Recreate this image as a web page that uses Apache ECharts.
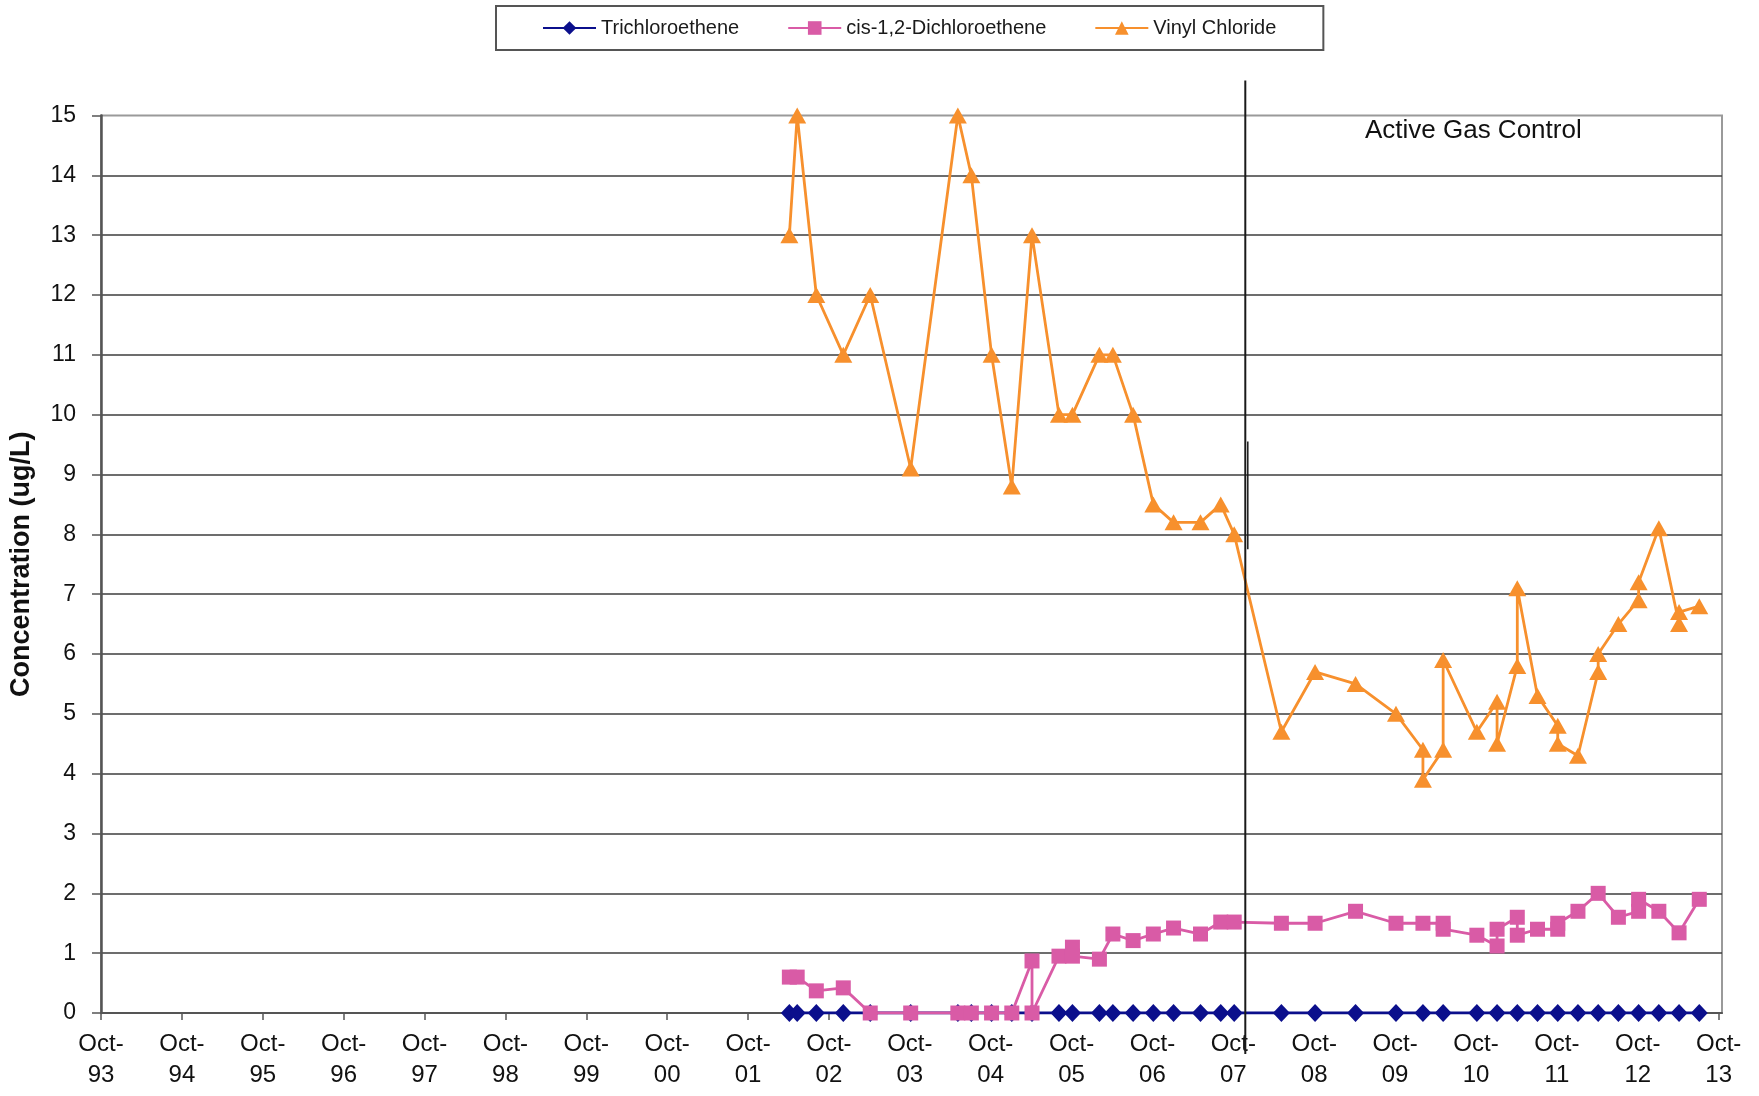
<!DOCTYPE html>
<html>
<head>
<meta charset="utf-8">
<title>Concentration (ug/L)</title>
<script src="https://cdn.jsdelivr.net/npm/echarts@6/dist/echarts.min.js"></script>
<style>
  html, body { margin: 0; padding: 0; background: #ffffff; }
  #chart { width: 1759px; height: 1096px; }
</style>
</head>
<body>
<div id="chart"></div>
<script>
// Sampling dates and concentrations (ug/L)
const tceDates = [
  '2002-04-05', '2002-05-10', '2002-08-05', '2002-12-05', '2003-04-05', '2003-10-05',
  '2004-05-05', '2004-07-05', '2004-10-05', '2005-01-05', '2005-04-05', '2005-08-05',
  '2005-10-05', '2006-02-05', '2006-04-05', '2006-07-05', '2006-10-05', '2007-01-05',
  '2007-05-05', '2007-08-05', '2007-10-05', '2008-05-05', '2008-10-05', '2009-04-05',
  '2009-10-05', '2010-02-05', '2010-05-05', '2010-10-05', '2011-01-05', '2011-04-05',
  '2011-07-05', '2011-10-05', '2012-01-05', '2012-04-05', '2012-07-05', '2012-10-05',
  '2013-01-05', '2013-04-05', '2013-07-05'
];
const tceValues = [
  0, 0, 0, 0, 0, 0,
  0, 0, 0, 0, 0, 0,
  0, 0, 0, 0, 0, 0,
  0, 0, 0, 0, 0, 0,
  0, 0, 0, 0, 0, 0,
  0, 0, 0, 0, 0, 0,
  0, 0, 0
];

const dceDates = [
  '2002-04-05', '2002-05-10', '2002-08-05', '2002-12-05', '2003-04-05', '2003-10-05',
  '2004-05-05', '2004-07-05', '2004-10-05', '2005-01-05', '2005-04-05', '2005-04-05',
  '2005-08-05', '2005-10-05', '2005-10-05', '2006-02-05', '2006-04-05', '2006-07-05',
  '2006-10-05', '2007-01-05', '2007-05-05', '2007-08-05', '2007-10-05', '2008-05-05',
  '2008-10-05', '2009-04-05', '2009-10-05', '2010-02-05', '2010-05-05', '2010-05-05',
  '2010-10-05', '2011-01-05', '2011-01-05', '2011-04-05', '2011-04-05', '2011-07-05',
  '2011-10-05', '2011-10-05', '2012-01-05', '2012-04-05', '2012-07-05', '2012-10-05',
  '2012-10-05', '2013-01-05', '2013-04-05', '2013-07-05'
];
const dceValues = [
  0.6, 0.6, 0.37, 0.42, 0, 0,
  0, 0, 0, 0, 0.87, 0,
  0.95, 1.1, 0.95, 0.9, 1.32, 1.21,
  1.32, 1.42, 1.32, 1.52, 1.52, 1.5,
  1.5, 1.7, 1.5, 1.5, 1.5, 1.4,
  1.3, 1.12, 1.4, 1.6, 1.3, 1.4,
  1.4, 1.5, 1.7, 2.0, 1.6, 1.7,
  1.9, 1.7, 1.34, 1.9
];

const vcDates = [
  '2002-04-05', '2002-05-10', '2002-08-05', '2002-12-05', '2003-04-05', '2003-10-05',
  '2004-05-05', '2004-07-05', '2004-10-05', '2005-01-05', '2005-04-05', '2005-08-05',
  '2005-10-05', '2006-02-05', '2006-04-05', '2006-07-05', '2006-10-05', '2007-01-05',
  '2007-05-05', '2007-08-05', '2007-10-05', '2008-05-05', '2008-10-05', '2009-04-05',
  '2009-10-05', '2010-02-05', '2010-02-05', '2010-05-05', '2010-05-05', '2010-10-05',
  '2011-01-05', '2011-01-05', '2011-04-05', '2011-04-05', '2011-07-05', '2011-10-05',
  '2011-10-05', '2012-01-05', '2012-04-05', '2012-04-05', '2012-07-05', '2012-10-05',
  '2012-10-05', '2013-01-05', '2013-04-05', '2013-04-05', '2013-07-05'
];
const vcValues = [
  13, 15, 12, 11, 12, 9.1,
  15, 14, 11, 8.8, 13, 10,
  10, 11, 11, 10, 8.5, 8.2,
  8.2, 8.5, 8.0, 4.7, 5.7, 5.5,
  5.0, 4.4, 3.9, 4.4, 5.9, 4.7,
  5.2, 4.5, 5.8, 7.1, 5.3, 4.8,
  4.5, 4.3, 5.7, 6.0, 6.5, 6.9,
  7.2, 8.1, 6.5, 6.7, 6.8
];

// Axis ticks: one label per October, 1993-2013
const yearTicks = ['93', '94', '95', '96', '97', '98', '99', '00', '01', '02',
                   '03', '04', '05', '06', '07', '08', '09', '10', '11', '12', '13'];
const yTicks = [0, 1, 2, 3, 4, 5, 6, 7, 8, 9, 10, 11, 12, 13, 14, 15];

// Start of active gas control
const gasControlStart = '2007-11-25';
const gasControlLabel = 'Active Gas Control';

// x axis runs in months counted from October 1993
function monthsFromStart(dateStr) {
  const [y, m, d] = dateStr.split('-').map(Number);
  return (y - 1993) * 12 + (m - 10) + (d - 1) / 31;
}
function pairs(dates, values) {
  return dates.map((d, i) => [monthsFromStart(d), values[i]]);
}

const FONT = "'Liberation Sans', Arial, sans-serif";
const chart = echarts.init(document.getElementById('chart'), null, { renderer: 'canvas' });

const tickMonths = yearTicks.map((_, i) => i * 12);

const option = {
  backgroundColor: '#ffffff',
  animation: false,
  textStyle: { fontFamily: FONT },
  legend: {
    left: 496,
    top: 6,
    padding: [12, 47, 12, 46],
    itemGap: 48,
    itemWidth: 53,
    itemHeight: 17,
    borderColor: '#555555',
    borderWidth: 2,
    backgroundColor: '#ffffff',
    textStyle: { fontFamily: FONT, fontSize: 20, color: '#1a1a1a' },
    data: ['Trichloroethene', 'cis-1,2-Dichloroethene', 'Vinyl Chloride']
  },
  grid: {
    left: 101,
    right: 37,
    top: 115.5,
    bottom: 83,
    show: true,
    borderColor: '#9a9a9a',
    borderWidth: 2,
    backgroundColor: 'transparent'
  },
  xAxis: {
    type: 'value',
    min: 0,
    max: 240.5,
    interval: 12,
    axisLine: { show: true, lineStyle: { color: '#555555', width: 2 } },
    axisTick: {
      show: true, inside: false, length: 7,
      customValues: tickMonths,
      lineStyle: { color: '#555555', width: 1.5 }
    },
    axisLabel: {
      customValues: tickMonths,
      margin: 16,
      fontFamily: FONT,
      fontSize: 24,
      lineHeight: 31,
      color: '#111111',
      formatter: (v) => 'Oct-\n' + yearTicks[Math.round(v / 12)]
    },
    splitLine: { show: false }
  },
  yAxis: {
    type: 'value',
    min: yTicks[0],
    max: yTicks[yTicks.length - 1],
    interval: 1,
    name: 'Concentration (ug/L)',
    nameLocation: 'middle',
    nameGap: 66,
    nameTextStyle: { fontFamily: FONT, fontSize: 27, fontWeight: 'bold', color: '#111111' },
    axisLine: { show: true, lineStyle: { color: '#555555', width: 2.5 } },
    axisTick: { show: true, inside: false, length: 9, lineStyle: { color: '#555555', width: 1.5 } },
    axisLabel: { margin: 25, fontFamily: FONT, fontSize: 23, color: '#111111' },
    splitLine: {
      show: true,
      showMinLine: false,
      showMaxLine: false,
      lineStyle: { color: '#3c3c3c', width: 1.5 }
    }
  },
  series: [
    {
      name: 'Trichloroethene',
      type: 'line',
      data: pairs(tceDates, tceValues),
      symbol: 'diamond',
      symbolSize: [17, 18],
      showSymbol: true,
      lineStyle: { color: '#0b0f8c', width: 2.8 },
      itemStyle: { color: '#0b0f8c', borderWidth: 0 },
      z: 3
    },
    {
      name: 'cis-1,2-Dichloroethene',
      type: 'line',
      data: pairs(dceDates, dceValues),
      symbol: 'rect',
      symbolSize: 15,
      showSymbol: true,
      lineStyle: { color: '#d95ba6', width: 2.8 },
      itemStyle: { color: '#d95ba6', borderWidth: 0 },
      z: 4
    },
    {
      name: 'Vinyl Chloride',
      type: 'line',
      data: pairs(vcDates, vcValues),
      symbol: 'triangle',
      symbolSize: [18, 16],
      showSymbol: true,
      lineStyle: { color: '#f7902d', width: 2.8 },
      itemStyle: { color: '#f7902d', borderWidth: 0 },
      z: 5
    }
  ]
};

chart.setOption(option);

// Divider marking the start of active gas control, plus its caption
function drawGasControl() {
  const xm = monthsFromStart(gasControlStart);
  const top = chart.convertToPixel({ gridIndex: 0 }, [xm, yTicks[yTicks.length - 1]]);
  const bottom = chart.convertToPixel({ gridIndex: 0 }, [xm, yTicks[0]]);
  const mid1 = chart.convertToPixel({ gridIndex: 0 }, [xm, 9.55]);
  const mid2 = chart.convertToPixel({ gridIndex: 0 }, [xm, 7.75]);
  chart.setOption({
    graphic: [
      {
        type: 'line',
        z: 10,
        shape: { x1: top[0], y1: top[1] - 35, x2: bottom[0], y2: bottom[1] + 41 },
        style: { stroke: '#1a1a1a', lineWidth: 2 }
      },
      {
        type: 'line',
        z: 10,
        shape: { x1: mid1[0] + 2.5, y1: mid1[1], x2: mid2[0] + 2.5, y2: mid2[1] },
        style: { stroke: '#1a1a1a', lineWidth: 1.5 }
      },
      {
        type: 'text',
        z: 10,
        x: top[0] + 228,
        y: top[1] + 15,
        style: {
          text: gasControlLabel,
          fontFamily: FONT,
          fontSize: 26,
          fill: '#111111',
          align: 'center',
          verticalAlign: 'middle'
        }
      }
    ]
  });
}
drawGasControl();
</script>
</body>
</html>
